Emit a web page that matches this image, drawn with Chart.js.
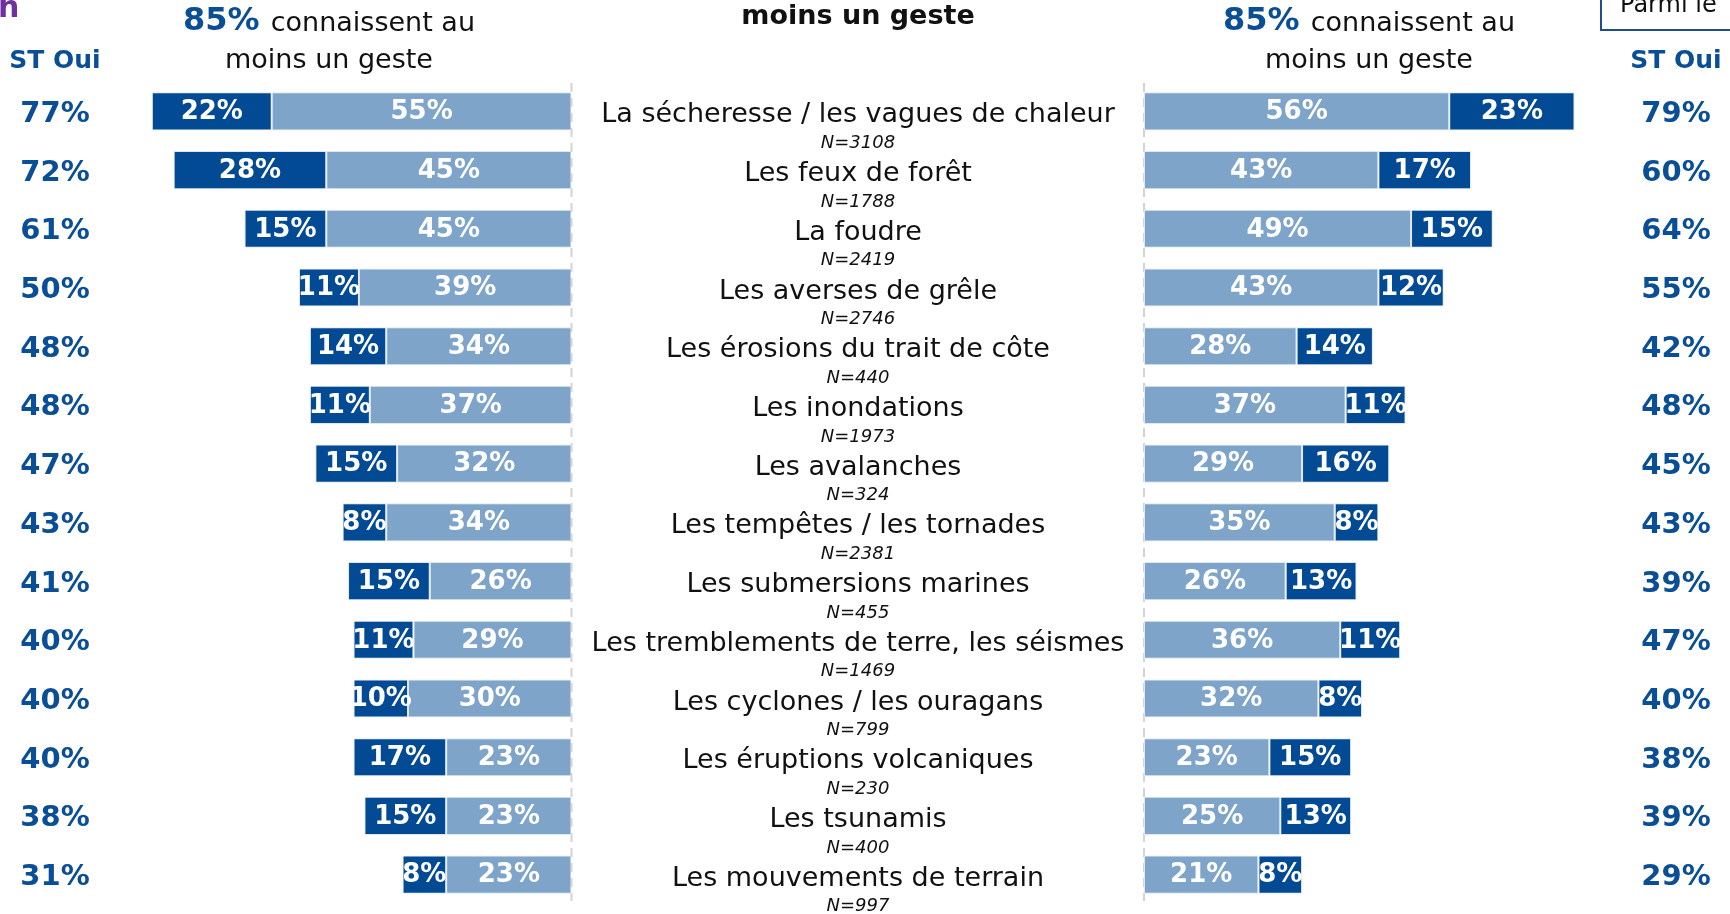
<!DOCTYPE html>
<html>
<head>
<meta charset="utf-8">
<script src="https://cdn.jsdelivr.net/npm/chart.js@4"></script>
<style>
  html, body { margin: 0; padding: 0; background: #fff; overflow: hidden; }
  #wrap { position: relative; width: 1730px; height: 914px; }
  canvas { position: absolute; left: 0; top: 0; }
</style>
</head>
<body>
<div id="wrap">
  <canvas id="left" width="1730" height="914"></canvas>
  <canvas id="right" width="1730" height="914"></canvas>
</div>
<script>
const categories = [
  "La sécheresse / les vagues de chaleur",
  "Les feux de forêt",
  "La foudre",
  "Les averses de grêle",
  "Les érosions du trait de côte",
  "Les inondations",
  "Les avalanches",
  "Les tempêtes / les tornades",
  "Les submersions marines",
  "Les tremblements de terre, les séismes",
  "Les cyclones / les ouragans",
  "Les éruptions volcaniques",
  "Les tsunamis",
  "Les mouvements de terrain"
];
const sampleSizes = ["N=3108", "N=1788", "N=2419", "N=2746", "N=440", "N=1973", "N=324",
  "N=2381", "N=455", "N=1469", "N=799", "N=230", "N=400", "N=997"];

// left block (dark = outer segment, light = next to the axis)
const leftDark  = [22, 28, 15, 11, 14, 11, 15, 8, 15, 11, 10, 17, 15, 8];
const leftLight = [55, 45, 45, 39, 34, 37, 32, 34, 26, 29, 30, 23, 23, 23];
const leftTotal = [77, 72, 61, 50, 48, 48, 47, 43, 41, 40, 40, 40, 38, 31];

// right block (light next to the axis, dark outer)
const rightLight = [56, 43, 49, 43, 28, 37, 29, 35, 26, 36, 32, 23, 25, 21];
const rightDark  = [23, 17, 15, 12, 14, 11, 16, 8, 13, 11, 8, 15, 13, 8];
const rightTotal = [79, 60, 64, 55, 42, 48, 45, 43, 39, 47, 40, 38, 39, 29];

const DARK = "#024a94";
const LIGHT = "#7ea4ca";
const BLUE_TXT = "#0a4e96";
const FONT = '"Century Gothic", "DejaVu Sans", sans-serif';

const W = 1730, H = 914;
const TOP = 82, BOTTOM = 904;

// white % inside each segment + dashed zero axis
const segmentLabels = {
  id: "segmentLabels",
  beforeDatasetsDraw(chart) {
    const ctx = chart.ctx;
    const x0 = chart.scales.x.getPixelForValue(0);
    ctx.save();
    ctx.strokeStyle = "#d4d4d4";
    ctx.lineWidth = 2;
    ctx.setLineDash([9, 6]);
    ctx.beginPath();
    ctx.moveTo(x0, 83);
    ctx.lineTo(x0, 901);
    ctx.stroke();
    ctx.restore();
  },
  afterDatasetsDraw(chart) {
    const ctx = chart.ctx;
    ctx.save();
    ctx.font = "bold 26px " + FONT;
    ctx.fillStyle = "#fff";
    ctx.textAlign = "center";
    ctx.textBaseline = "middle";
    chart.data.datasets.forEach((ds, d) => {
      chart.getDatasetMeta(d).data.forEach((el, i) => {
        ctx.fillText(ds.data[i] + "%", (el.x + el.base) / 2, el.y + 1);
      });
    });
    ctx.restore();
  }
};

// totals on the side + headers
const sideText = {
  id: "sideText",
  afterDraw(chart, args, opts) {
    const ctx = chart.ctx;
    const y = chart.scales.y;
    ctx.save();
    ctx.textAlign = "center";
    ctx.textBaseline = "middle";
    ctx.fillStyle = BLUE_TXT;
    ctx.font = "bold 29px " + FONT;
    opts.totals.forEach((v, i) => {
      ctx.fillText(v + "%", opts.totalX, y.getPixelForValue(i) + 3);
    });
    ctx.font = "bold 25px " + FONT;
    ctx.fillText("ST Oui", opts.totalX, 61);

    // "85% connaissent au / moins un geste"
    ctx.textAlign = "left";
    ctx.font = "bold 32px " + FONT;
    const a = ctx.measureText("85% ").width;
    ctx.font = "27px " + FONT;
    const b = ctx.measureText("connaissent au").width;
    let x = opts.headX - (a + b) / 2;
    ctx.font = "bold 32px " + FONT;
    ctx.fillText("85% ", x, 22);
    ctx.fillStyle = "#111";
    ctx.font = "27px " + FONT;
    ctx.fillText("connaissent au", x + a, 24);
    ctx.textAlign = "center";
    ctx.fillText("moins un geste", opts.headX, 61);
    ctx.restore();
  }
};

// category names in the middle, plus cropped bits at the top
const middleText = {
  id: "middleText",
  afterDraw(chart) {
    const ctx = chart.ctx;
    const y = chart.scales.y;
    ctx.save();
    ctx.textAlign = "center";
    ctx.textBaseline = "middle";
    ctx.fillStyle = "#111";
    categories.forEach((c, i) => {
      const py = y.getPixelForValue(i);
      ctx.font = "27px " + FONT;
      ctx.fillText(c, 858, py + 4);
      ctx.font = "italic 18px " + FONT;
      ctx.fillText(sampleSizes[i], 858, py + 32);
    });
    ctx.font = "bold 27px " + FONT;
    ctx.fillText("moins un geste", 858, 17);

    ctx.textAlign = "left";
    ctx.fillStyle = "#7030a0";
    ctx.font = "bold 30px " + FONT;
    ctx.fillText("n", -2, 9);

    ctx.strokeStyle = "#1f4e8c";
    ctx.lineWidth = 2;
    ctx.strokeRect(1601, -4, 160, 34);
    ctx.fillStyle = "#111";
    ctx.font = "24px " + FONT;
    ctx.fillText("Parmi le", 1620, 6);
    ctx.restore();
  }
};

const barConfig = (light, dark, reverse, padding, side) => ({
  type: "bar",
  data: {
    labels: categories,
    datasets: [
      { data: light, backgroundColor: LIGHT, borderColor: "#dfe8f2", borderWidth: 1, borderSkipped: false },
      { data: dark, backgroundColor: DARK, borderColor: "#dfe8f2", borderWidth: 1, borderSkipped: false }
    ]
  },
  options: {
    responsive: false,
    animation: false,
    devicePixelRatio: 1,
    indexAxis: "y",
    layout: { padding: padding },
    datasets: { bar: { categoryPercentage: 1, barPercentage: 0.65 } },
    scales: {
      x: { stacked: true, min: 0, max: 80, reverse: reverse, display: false },
      y: { stacked: true, display: false }
    },
    plugins: {
      legend: { display: false },
      tooltip: { enabled: false },
      sideText: side
    }
  },
  plugins: [segmentLabels, sideText]
});

const leftCfg = barConfig(leftLight, leftDark, true,
  { left: 135.5, right: W - 571.5, top: TOP, bottom: H - BOTTOM },
  { totals: leftTotal, totalX: 55, headX: 329 });
new Chart(document.getElementById("left").getContext("2d"), leftCfg);

const rightCfg = barConfig(rightLight, rightDark, false,
  { left: 1144, right: W - 1580, top: TOP, bottom: H - BOTTOM },
  { totals: rightTotal, totalX: 1676, headX: 1369 });
rightCfg.plugins.push(middleText);
new Chart(document.getElementById("right").getContext("2d"), rightCfg);
</script>
</body>
</html>
